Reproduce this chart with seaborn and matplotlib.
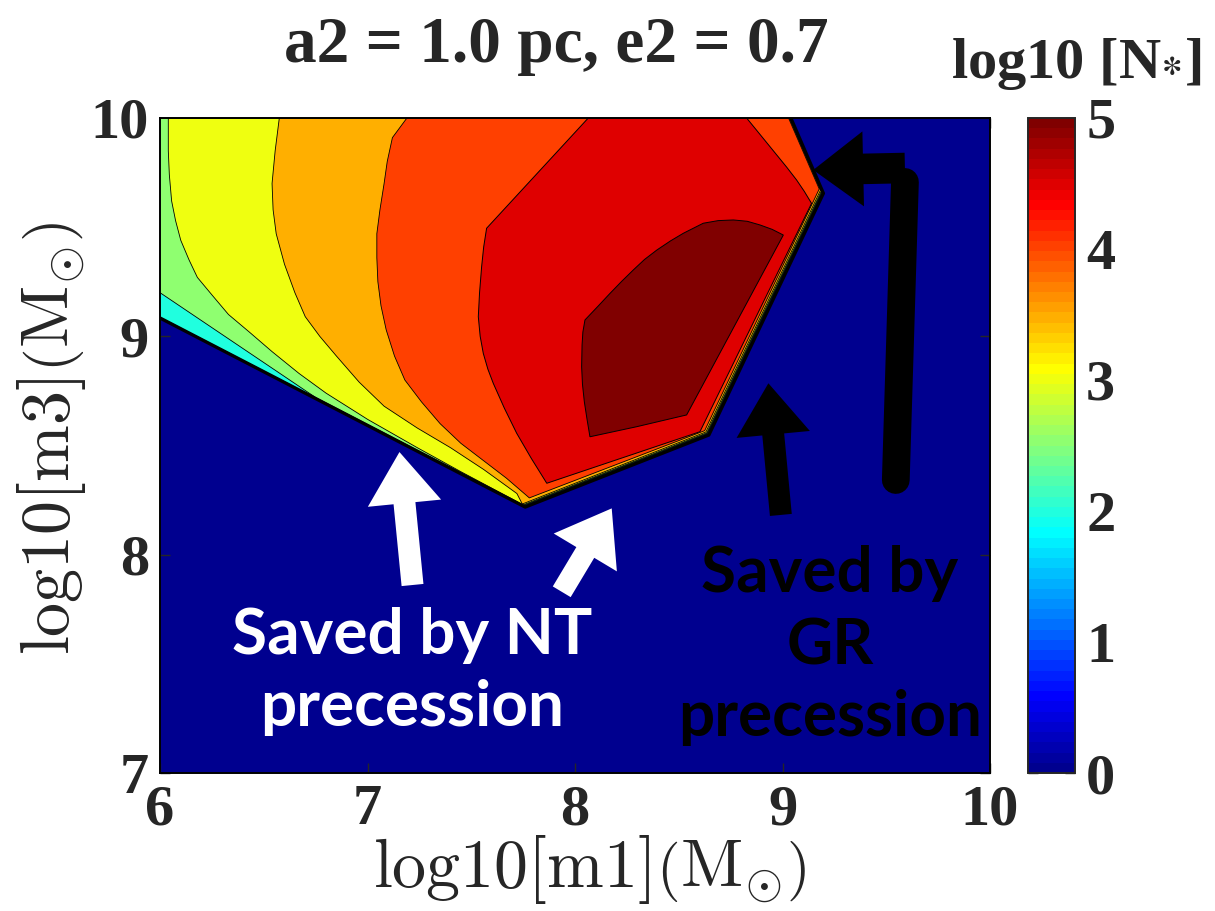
import numpy as np
import matplotlib
matplotlib.use("Agg")
import matplotlib.pyplot as plt
import seaborn as sns
from matplotlib.colors import ListedColormap, Normalize
from matplotlib.cm import ScalarMappable
from matplotlib.patches import FancyArrowPatch

# ---------------- data: log10 m1 (x), log10 m3 (y), value = log10 N* ----------------
# open contour levels that are bounded below by the edge of the region with N* > 0
open_levels = [0.5, 1.0, 1.5, 2.0, 2.5, 3.0, 3.5, 4.0]

# edge of the region with N* > 0 (outside it: saved by NT / GR precession, N* = 0)
edge_x = [6.0, 7.76, 8.645, 9.197, 9.04]
edge_y = [9.084, 8.218, 8.548, 9.655, 10.0]

# level curves, from the top of the panel down to where they meet the edge
curve_low_x = [6.0]
curve_low_y = [10.0]
curve25_x = [6.0, 6.0, 6.75]
curve25_y = [10.0, 9.2, 8.72]
curve30_x = [6.04, 6.04, 6.045, 6.056, 6.075, 6.1, 6.14, 6.18, 6.25, 6.33, 6.43, 6.54, 6.67, 6.8, 7.0, 7.24, 7.45]
curve30_y = [10.0, 9.85, 9.74, 9.62, 9.53, 9.44, 9.35, 9.27, 9.19, 9.10, 9.02, 8.93, 8.83, 8.74, 8.62, 8.49, 8.38]
curve35_x = [6.575, 6.555, 6.54, 6.545, 6.56, 6.6, 6.65, 6.7, 6.77, 6.85, 6.96, 7.08, 7.24, 7.4, 7.56, 7.72]
curve35_y = [10.0, 9.85, 9.70, 9.58, 9.47, 9.33, 9.20, 9.09, 9.00, 8.91, 8.79, 8.68, 8.58, 8.49, 8.39, 8.28]
curve40_x = [7.19, 7.12, 7.095, 7.08, 7.06, 7.045, 7.045, 7.05, 7.065, 7.09, 7.13, 7.18, 7.26, 7.35, 7.45, 7.56, 7.67, 7.78]
curve40_y = [10.0, 9.91, 9.80, 9.70, 9.58, 9.47, 9.36, 9.25, 9.14, 9.03, 8.91, 8.80, 8.70, 8.60, 8.51, 8.43, 8.35, 8.26]

# closed contours
red45_x = [8.064, 7.574, 7.56, 7.55, 7.54, 7.534, 7.543, 7.558, 7.58, 7.606, 7.66, 7.719, 7.79, 7.864,
           8.602, 9.14, 9.105, 9.068, 9.02, 8.972, 8.9, 8.827]
red45_y = [10.0, 9.495, 9.41, 9.319, 9.2, 9.09, 9.0, 8.922, 8.85, 8.785, 8.67, 8.556, 8.44, 8.327,
           8.563, 9.609, 9.664, 9.716, 9.775, 9.831, 9.915, 10.0]
dark50_x = [8.048, 8.038, 8.034, 8.032, 8.036, 8.045, 8.058, 8.072, 8.297, 8.538, 9.004, 8.95, 8.892,
            8.83, 8.763, 8.69, 8.618, 8.522, 8.46, 8.394, 8.335, 8.281, 8.225, 8.169, 8.11]
dark50_y = [9.075, 9.02, 8.96, 8.861, 8.78, 8.70, 8.62, 8.54, 8.586, 8.64, 9.464, 9.49, 9.51,
            9.527, 9.533, 9.53, 9.518, 9.472, 9.437, 9.395, 9.352, 9.304, 9.252, 9.197, 9.137]

cbar_ticks = [0, 1, 2, 3, 4, 5]
title_text = "a2 = 1.0 pc, e2 = 0.7"

# ---------------- MATLAB-like jet(64) ----------------
def matlab_jet(m=64):
    n = int(np.ceil(m / 4))
    u = np.concatenate([np.arange(1, n + 1) / n, np.ones(n - 1), np.arange(n, 0, -1) / n])
    g = int(np.ceil(n / 2)) - (1 if m % 4 == 1 else 0) + np.arange(1, len(u) + 1)
    r = g + n
    b = g - n
    J = np.zeros((m, 3))
    for col, idx in ((0, r), (1, g), (2, b)):
        ok = (idx >= 1) & (idx <= m)
        J[idx[ok] - 1, col] = u[ok]
    return ListedColormap(J)

cmap = matlab_jet(64)
norm = Normalize(0, 5)

sns.set_theme(style="ticks")
plt.rcParams["font.family"] = ["Liberation Serif", "DejaVu Serif"]
plt.rcParams["font.weight"] = "bold"

fig = plt.figure(figsize=(12.15, 9.11), dpi=100)
ax = fig.add_axes([160 / 1215, 1 - 773 / 911, 830 / 1215, 655 / 911])
ax.set_facecolor(cmap(norm(0.0)))
ax.set_xlim(6, 10)
ax.set_ylim(7, 10)

offsets = [0.0, 0.002, 0.004, 0.006, 0.008, 0.010, 0.014, 0.020]
curves = {0.5: (curve_low_x, curve_low_y), 1.0: (curve_low_x, curve_low_y),
          1.5: (curve_low_x, curve_low_y), 2.0: (curve_low_x, curve_low_y),
          2.5: (curve25_x, curve25_y), 3.0: (curve30_x, curve30_y),
          3.5: (curve35_x, curve35_y), 4.0: (curve40_x, curve40_y)}

for k, (lev, off) in enumerate(zip(open_levels, offsets)):
    cx, cy = curves[lev]
    px, py = list(cx), list(cy)
    for x, y in zip(edge_x, edge_y):
        if x >= cx[-1] - 1e-9:
            px.append(x - off)
            py.append(y + off)
    ax.fill(px, py, facecolor=cmap(norm(lev)), edgecolor="black", linewidth=0.6, zorder=2 + k * 0.1)

ax.fill(red45_x, red45_y, facecolor=cmap(norm(4.5)), edgecolor="black", linewidth=0.7, zorder=3)
ax.fill(dark50_x, dark50_y, facecolor=cmap(norm(5.0)), edgecolor="black", linewidth=0.7, zorder=3.1)

# thick black edge of the surviving region
sns.lineplot(x=edge_x, y=edge_y, sort=False, color="black", linewidth=2.4, ax=ax, zorder=3.5)

# ---------------- arrows ----------------
def arrow(tail, tip, color, tw=15.8, hw=53, hl=37):
    p = FancyArrowPatch(tail, tip, arrowstyle=f"simple,head_length={hl},head_width={hw},tail_width={tw}",
                        mutation_scale=1, facecolor=color, edgecolor="none", shrinkA=0, shrinkB=0,
                        zorder=6)
    ax.add_patch(p)

arrow((7.217, 7.861), (7.154, 8.470), "white")
arrow((7.936, 7.830), (8.177, 8.212), "white", tw=15)
arrow((8.992, 8.182), (8.932, 8.785), "black")
ax.plot([9.546, 9.590], [8.342, 9.707], color="black", linewidth=20, solid_capstyle="round", zorder=6)
arrow((9.590, 9.771), (9.148, 9.762), "black", tw=22, hw=54, hl=36)

ax.text(7.214, 7.463, "Saved by NT\nprecession", color="white", ha="center", va="center",
        fontsize=46, fontweight="bold", family=["Lato", "DejaVu Sans"], linespacing=1.32, zorder=7)
ax.text(9.229, 7.582, "Saved by\nGR\nprecession", color="black", ha="center", va="center",
        fontsize=46, fontweight="bold", family=["Lato", "DejaVu Sans"], linespacing=1.32, zorder=7)

# ---------------- axes styling ----------------
ax.set_xticks([6, 7, 8, 9, 10])
ax.set_yticks([7, 8, 9, 10])
ax.tick_params(direction="in", length=7, width=1, top=True, right=True, labelsize=42, pad=8)
for s in ax.spines.values():
    s.set_linewidth(1.4)
    s.set_color("black")
    s.set_zorder(10)

ax.set_xlabel(r"$\mathrm{log10[m1]}\left(\mathrm{M}_{\odot}\right)$", fontsize=49, math_fontfamily="cm")
ax.set_ylabel(r"$\mathrm{log10[m3]}\left(\mathrm{M}_{\odot}\right)$", fontsize=49, math_fontfamily="cm")
ax.xaxis.set_label_coords((590 - 160) / 830, -(869 - 773) / 655)
ax.yaxis.set_label_coords(-(160 - 52) / 830, (773 - 438) / 655)
ax.xaxis.label.set_va("center")
ax.yaxis.label.set_va("center")

fig.text(556 / 1215, 1 - 62 / 911, title_text, ha="center", va="baseline", fontsize=47, fontweight="bold")

cax = fig.add_axes([1028 / 1215, 1 - 773 / 911, 47 / 1215, 655 / 911])
cb = fig.colorbar(ScalarMappable(norm=norm, cmap=cmap), cax=cax, ticks=cbar_ticks)
cb.outline.set_linewidth(1.4)
cax.tick_params(direction="in", length=7, width=1, left=True, right=True, labelsize=42, pad=8)
fig.text(1076 / 1215, 1 - 78 / 911, r"log10 [N$_{\mathbf{*}}$]", ha="center", va="baseline",
         fontsize=42, fontweight="bold", math_fontfamily="stix")

fig.savefig("out.png", dpi=100)
